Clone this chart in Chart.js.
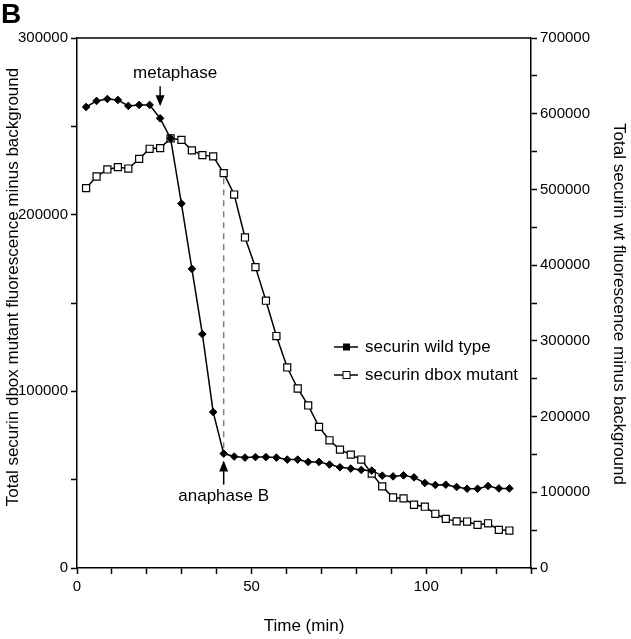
<!DOCTYPE html>
<html>
<head>
<meta charset="utf-8">
<script src="https://cdn.jsdelivr.net/npm/chart.js@4/dist/chart.umd.min.js"></script>
<style>
  html, body { margin: 0; padding: 0; background: #fff; }
  canvas { display: block; }
</style>
</head>
<body>
<canvas id="securin-chart" width="631" height="639"></canvas>
<script>
// sampling times (min), shared by both series
const timeMin = [
  2.6, 5.6, 8.7, 11.7, 14.7, 17.8, 20.8, 23.8, 26.8, 29.9,
  32.9, 35.9, 39.0, 42.0, 45.0, 48.1, 51.1, 54.1, 57.1, 60.2,
  63.2, 66.2, 69.3, 72.3, 75.3, 78.4, 81.4, 84.4, 87.4, 90.5,
  93.5, 96.5, 99.6, 102.6, 105.6, 108.7, 111.7, 114.7, 117.7, 120.8,
  123.8
];

// right axis (wt)
const wildType = [
  608900, 616900, 619500, 618200, 610300, 611600, 611600, 593900, 567400, 481300,
  395100, 308900, 205900, 151100, 147200, 145800, 146500, 146500, 145800, 143200,
  143200, 140100, 140100, 136600, 133000, 131300, 129500, 128600, 122000, 121000,
  122400, 119700, 112300, 109600, 110000, 107000, 104700, 104700, 108300, 105100,
  105100
];

// left axis (dbox mutant)
const dboxMutant = [
  215000, 221600, 225600, 226900, 226100, 231600, 237300, 237700, 243200, 242300,
  236400, 233700, 233000, 223500, 211400, 187100, 170300, 151300, 131300, 113500,
  101600, 92000, 79900, 72300, 67000, 64200, 61400, 53400, 46200, 39900,
  39400, 35800, 34700, 30700, 27800, 26400, 26300, 24400, 25300, 21600,
  21200
];

const seriesNames = ["securin wild type", "securin dbox mutant"];
const leftTitle = "Total securin dbox mutant fluorescence minus background";
const rightTitle = "Total securin wt fluorescence minus background";
const metaphaseIdx = 7;
const anaphaseIdx = 13;

const FONT = "'Liberation Sans', Arial, Helvetica, sans-serif";

function drawArrow(ctx, x, yFrom, yTo) {
  const dir = yTo > yFrom ? 1 : -1;
  ctx.beginPath();
  ctx.moveTo(x, yFrom);
  ctx.lineTo(x, yTo - dir * 9);
  ctx.stroke();
  ctx.beginPath();
  ctx.moveTo(x, yTo);
  ctx.lineTo(x - 4.5, yTo - dir * 11);
  ctx.lineTo(x + 4.5, yTo - dir * 11);
  ctx.closePath();
  ctx.fill();
}

const annotations = {
  id: "annotations",
  afterDatasetsDraw(chart) {
    const { ctx, chartArea, scales } = chart;
    const xs = scales.x, yl = scales.yLeft, yr = scales.yRight;
    ctx.save();

    // frame top edge
    ctx.strokeStyle = "#000";
    ctx.lineWidth = 1.5;
    ctx.beginPath();
    ctx.moveTo(chartArea.left, chartArea.top);
    ctx.lineTo(chartArea.right, chartArea.top);
    ctx.stroke();

    // dashed guide at anaphase
    const xa = xs.getPixelForValue(timeMin[anaphaseIdx]);
    ctx.strokeStyle = "#808080";
    ctx.setLineDash([6, 5]);
    ctx.beginPath();
    ctx.moveTo(xa, yl.getPixelForValue(dboxMutant[anaphaseIdx]) + 5);
    ctx.lineTo(xa, yr.getPixelForValue(wildType[anaphaseIdx]) - 4);
    ctx.stroke();
    ctx.setLineDash([]);

    ctx.fillStyle = "#000";
    ctx.strokeStyle = "#000";
    ctx.lineWidth = 1.5;
    ctx.font = "17px " + FONT;
    ctx.textBaseline = "middle";
    ctx.textAlign = "center";

    // metaphase
    const xm = xs.getPixelForValue(timeMin[metaphaseIdx]);
    const ym = yr.getPixelForValue(wildType[metaphaseIdx]);
    drawArrow(ctx, xm, ym - 32, ym - 12);
    ctx.fillText("metaphase", xm + 15, ym - 45);

    // anaphase B
    const yb = yr.getPixelForValue(wildType[anaphaseIdx]);
    drawArrow(ctx, xa, yb + 31, yb + 7);
    ctx.fillText("anaphase B", xa, yb + 43);

    // axis titles
    ctx.save();
    ctx.translate(13, 287);
    ctx.rotate(-Math.PI / 2);
    ctx.fillText(leftTitle, 0, 0);
    ctx.restore();
    ctx.save();
    ctx.translate(619, 304);
    ctx.rotate(Math.PI / 2);
    ctx.fillText(rightTitle, 0, 0);
    ctx.restore();

    // legend
    ctx.textAlign = "left";
    const lx = 334, rows = [347, 375];
    rows.forEach((ly, i) => {
      ctx.beginPath();
      ctx.moveTo(lx, ly);
      ctx.lineTo(lx + 24, ly);
      ctx.stroke();
      if (i === 0) {
        ctx.fillRect(lx + 9, ly - 3.5, 7, 7);
      } else {
        ctx.fillStyle = "#fff";
        ctx.fillRect(lx + 9, ly - 3.5, 7, 7);
        ctx.lineWidth = 1;
        ctx.strokeRect(lx + 9, ly - 3.5, 7, 7);
        ctx.lineWidth = 1.5;
        ctx.fillStyle = "#000";
      }
      ctx.fillText(seriesNames[i], lx + 31, ly);
    });

    // panel letter
    ctx.font = "bold 28px " + FONT;
    ctx.textBaseline = "top";
    ctx.fillText("B", 1, 1);
    ctx.restore();
  }
};

const tickFont = { family: FONT, size: 15 };
const titleFont = { family: FONT, size: 17 };
const axisGrid = { display: true, drawOnChartArea: false, drawTicks: true, tickLength: 6, tickColor: "#000", tickWidth: 1.5 };
const axisBorder = { display: true, color: "#000", width: 1.5 };

new Chart(document.getElementById("securin-chart"), {
  type: "line",
  data: {
    datasets: [
      {
        label: seriesNames[0],
        data: timeMin.map((t, i) => ({ x: t, y: wildType[i] })),
        yAxisID: "yRight",
        borderColor: "#000",
        borderWidth: 1.5,
        pointStyle: "rectRot",
        pointRadius: 3.8,
        pointBackgroundColor: "#000",
        pointBorderColor: "#000",
        pointBorderWidth: 1,
        tension: 0
      },
      {
        label: seriesNames[1],
        data: timeMin.map((t, i) => ({ x: t, y: dboxMutant[i] })),
        yAxisID: "yLeft",
        borderColor: "#000",
        borderWidth: 1.5,
        pointStyle: "rect",
        pointRadius: 5,
        pointBackgroundColor: "#fff",
        pointBorderColor: "#000",
        pointBorderWidth: 1.2,
        tension: 0
      }
    ]
  },
  options: {
    responsive: false,
    animation: false,
    layout: { padding: { top: 38, left: 0, right: 0, bottom: 0 } },
    plugins: { legend: { display: false }, tooltip: { enabled: false } },
    scales: {
      x: {
        type: "linear",
        min: 0,
        max: 130,
        grid: axisGrid,
        border: axisBorder,
        ticks: {
          stepSize: 10,
          autoSkip: false,
          maxRotation: 0,
          color: "#000",
          font: tickFont,
          padding: 4,
          callback: (v) => (v % 50 === 0 ? String(v) : "")
        },
        title: { display: true, text: "Time (min)", color: "#000", font: titleFont, padding: { top: 0, bottom: 2 } },
        afterFit: (s) => { s.height = 71; }
      },
      yLeft: {
        position: "left",
        min: 0,
        max: 300000,
        grid: axisGrid,
        border: axisBorder,
        ticks: {
          stepSize: 50000,
          autoSkip: false,
          color: "#000",
          font: tickFont,
          padding: 3,
          callback: (v) => (v % 100000 === 0 ? String(v) : "")
        },
        afterFit: (s) => { s.width = 77; }
      },
      yRight: {
        position: "right",
        min: 0,
        max: 700000,
        grid: axisGrid,
        border: axisBorder,
        ticks: {
          stepSize: 50000,
          autoSkip: false,
          color: "#000",
          font: tickFont,
          padding: 3,
          callback: (v) => (v % 100000 === 0 ? String(v) : "")
        },
        afterFit: (s) => { s.width = 100; }
      }
    }
  },
  plugins: [annotations]
});
</script>
</body>
</html>
